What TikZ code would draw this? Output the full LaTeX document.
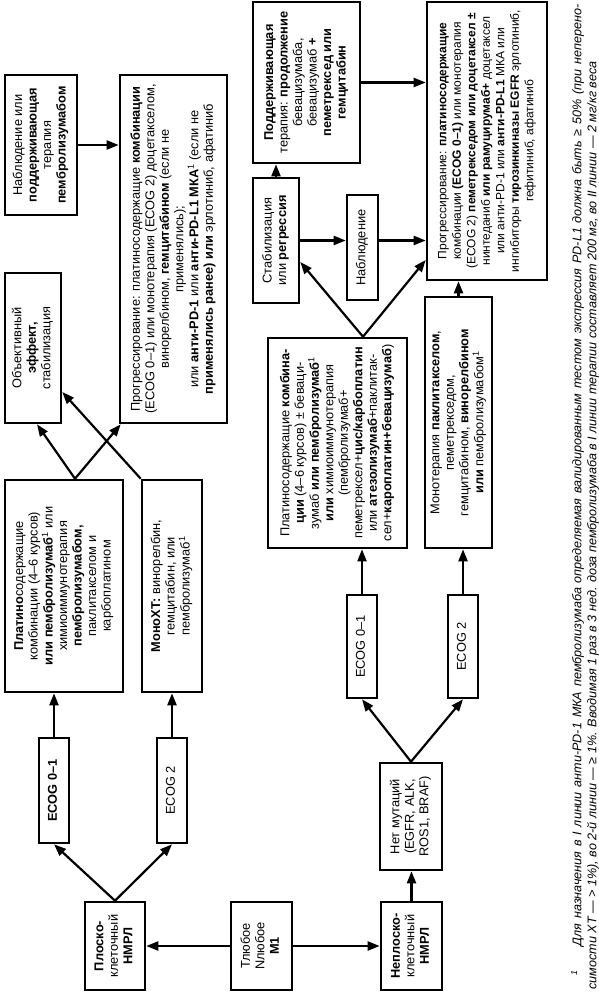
\documentclass[tikz,border=0pt]{standalone}
\usepackage{fontspec}
\setmainfont{Liberation Sans}
\usetikzlibrary{arrows.meta,calc}
\newcommand{\rtext}[2][12.8]{\rotatebox{90}{\fontsize{#1}{14.5}\selectfont\begin{tabular}{@{}c@{}}#2\end{tabular}}}
\newcommand{\sone}{\textsuperscript{1}}
\begin{document}
\begin{tikzpicture}[x=1pt,y=-1pt,
  box/.style={draw, line width=2.6pt, inner sep=0pt},
  arr/.style={line width=2.2pt, -{Triangle[length=12pt,width=9pt]}}]
\useasboundingbox (0,0) rectangle (598,992);

% bottom row
\node[box, minimum width=60pt, minimum height=88pt] (plosk) at (115,946)
  {\rtext{\textbf{Плоско-}\\клеточный\\\textbf{НМРЛ}}};
\node[box, minimum width=61pt, minimum height=88pt] (tany) at (261.5,946)
  {\rtext{Тлюбое\\Nлюбое\\\textbf{M1}}};
\node[box, minimum width=61pt, minimum height=88pt] (neplosk) at (411.5,946)
  {\rtext{\textbf{Неплоско-}\\клеточный\\\textbf{НМРЛ}}};
\node[box, minimum width=62pt, minimum height=107pt] (nomut) at (411,816.5)
  {\rtext{Нет мутаций\\(EGFR, ALK,\\ROS1, BRAF)}};

% left branch
\node[box, minimum width=30pt, minimum height=105pt] (ecogL1) at (54,790.5)
  {\rtext{\textbf{ECOG 0–1}}};
\node[box, minimum width=30pt, minimum height=105pt] (ecogL2) at (172,790.5)
  {\rtext{ECOG 2}};
\node[box, minimum width=118pt, minimum height=212pt] (platL) at (64,586)
  {\rtext{\textbf{Платино}содержащие\\комбинации (4–6 курсов)\\\textbf{или пембролизумаб}\sone{} или\\химиоиммунотерапия\\\textbf{пембролизумабом,}\\паклитакселом и\\карбоплатином}};
\node[box, minimum width=60pt, minimum height=212pt] (monoL) at (172,586)
  {\rtext{\textbf{МоноХТ:} винорелбин,\\гемцитабин, или\\пембролизумаб\sone}};
\node[box, minimum width=56pt, minimum height=150pt] (objL) at (33,348)
  {\rtext{Объективный\\\textbf{эффект,}\\стабилизация}};
\node[box, minimum width=107pt, minimum height=348pt] (progL) at (173.5,249)
  {\rtext{Прогрессирование: платиносодержащие \textbf{комбинации}\\(ECOG 0–1) или монотерапия (ECOG 2) доцетакселом,\\винорелбином, \textbf{гемцитабином} (если не\\применялись);\\или \textbf{анти-PD-1} или \textbf{анти-PD-L1 МКА}\sone{} (если не\\\textbf{применялись ранее) или} эрлотиниб, афатиниб}};
\node[box, minimum width=72pt, minimum height=140pt] (nablL) at (41,145)
  {\rtext{Наблюдение или\\\textbf{поддерживающая}\\терапия\\\textbf{пембролизумабом}}};

% right branch
\node[box, minimum width=30pt, minimum height=103pt] (ecogR1) at (362,646.5)
  {\rtext{ECOG 0–1}};
\node[box, minimum width=30pt, minimum height=103pt] (ecogR2) at (463,646.5)
  {\rtext{ECOG 2}};
\node[box, minimum width=139pt, minimum height=210pt] (platR) at (337.5,443)
  {\rtext{Платиносодержащие \textbf{комбина-}\\\textbf{ции} (4–6 курсов) ± беваци-\\зумаб \textbf{или пембролизумаб}\sone\\\textbf{или} химиоиммунотерапия\\(пембролизумаб+\\пеметрексел+\textbf{цис/карбоплатин}\\или \textbf{атезолизумаб}+паклитак-\\сел+\textbf{кароплатин+бевацизумаб})}};
\node[box, minimum width=67pt, minimum height=251pt] (monoR) at (458.5,422.5)
  {\rtext{Монотерапия \textbf{паклитакселом},\\пеметрекседом,\\гемцитабином, \textbf{винорелбином}\\\textbf{или} пембролизумабом\sone}};
\node[box, minimum width=46pt, minimum height=125pt] (stab) at (276,240.5)
  {\rtext{Стабилизация\\или \textbf{регрессия}}};
\node[box, minimum width=31pt, minimum height=105pt] (nablM) at (362.5,247.5)
  {\rtext{Наблюдение}};
\node[box, minimum width=107pt, minimum height=161pt] (podd) at (306.5,82.5)
  {\rtext{\textbf{Поддерживающая}\\терапия: \textbf{продолжение}\\бевацизумаба,\\бевацизумаб \textbf{+}\\\textbf{пеметрексед или}\\\textbf{гемцитабин}}};
\node[box, minimum width=120pt, minimum height=278pt] (progR) at (487,141)
  {\rtext[12]{Прогрессирование: \textbf{платиносодержащие}\\комбинации \textbf{(ECOG 0–1)} или монотерапия\\(ECOG 2) \textbf{пеметрекседом или доцетаксел ±}\\нинтеданиб \textbf{или рамуцирумаб+} доцетаксел\\или анти-PD-1 или \textbf{анти-PD-L1} МКА или\\ингибиторы \textbf{тирозинкиназы EGFR} эрлотиниб,\\гефитиниб, афатиниб}};

% footnote
\node[inner sep=0pt] (fn) at (585,497) {\rotatebox{90}{\parbox{985pt}{\fontsize{12.6}{15}\selectfont\itshape
  \makebox[985pt][s]{\hspace*{14pt}\sone\hspace{24pt}Для назначения в I линии анти-PD-1 МКА пембролизумаба определяемая валидированным тестом экспрессия PD-L1 должна быть ≥ 50\% (при неперено-}\\
  \makebox[985pt][l]{симости ХТ — > 1\%), во 2-й линии — ≥ 1\%. Вводимая 1 раз в 3 нед. доза пембролизумаба в I линии терапии составляет 200 мг, во II линии — 2 мг/кг веса}}}};

% connectors
\draw[arr] (tany.west) -- (plosk.east);
\draw[arr] (tany.east) -- (neplosk.west);
\draw[arr] (plosk.north) -- (ecogL1.south);
\draw[arr] (plosk.north) -- (ecogL2.south);
\draw[arr] (ecogL1.north) -- (ecogL1.north |- platL.south);
\draw[arr] (ecogL2.north) -- (monoL.south);
\draw[arr] ([xshift=11pt]platL.north) -- ([xshift=4pt]objL.south);
\draw[arr] ([xshift=11pt]platL.north) -- ([xshift=2pt]progL.south west);
\draw[arr] (monoL.north west) -- ([yshift=-44pt]objL.east);
\draw[arr] (nablL.east) -- (nablL.east -| progL.west);
\draw[arr] (neplosk.north) -- (neplosk.north |- nomut.south);
\draw[arr] (nomut.north) -- (ecogR1.south);
\draw[arr] (nomut.north) -- (ecogR2.south);
\draw[arr] (ecogR1.north) -- (ecogR1.north |- platR.south);
\draw[arr] (ecogR2.north) -- (ecogR2.north |- monoR.south);
\draw[arr] ([xshift=25.5pt]platR.north) -- ([yshift=-21.5pt]stab.east);
\draw[arr] ([xshift=25.5pt]platR.north) -- ([yshift=-119pt]progR.west);
\draw[arr] (stab.north) -- (stab.north |- podd.south);
\draw[arr] (stab.east) -- (stab.east -| nablM.west);
\draw[arr] (stab.east -| nablM.east) -- (stab.east -| progR.west);
\draw[arr] (podd.east) -- (podd.east -| progR.west);
\draw[arr] (monoR.north) -- (monoR.north |- progR.south);
\end{tikzpicture}
\end{document}
